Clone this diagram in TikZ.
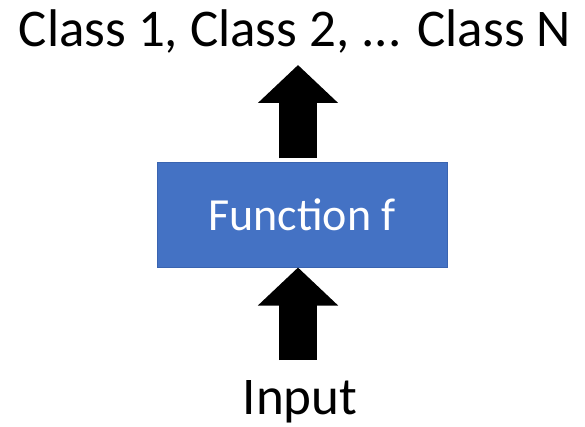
\documentclass[tikz,border=0pt]{standalone}
\usepackage{fontspec}
\setmainfont{Carlito}
\usetikzlibrary{arrows.meta}
\definecolor{officeblue}{HTML}{4472C4}
\definecolor{officeline}{HTML}{3A64B0}
\tikzset{
  funcbox/.style={draw=officeline, line width=1pt, fill=officeblue, text=white,
    minimum width=290pt, minimum height=104pt, font=\fontsize{46}{52}\selectfont},
  biglabel/.style={anchor=base, inner sep=0pt, font=\fontsize{53}{60}\selectfont},
  blockarrow/.style={line width=38pt, -{Triangle[length=38pt, width=78pt]}},
}
\begin{document}
\begin{tikzpicture}[x=1pt, y=1pt]
	\useasboundingbox (0,0) rectangle (585,-427);
	\node[funcbox]   (func)    at (302,-215) {Function f};
	\node[biglabel]  (classes) at (295,-47)  {Class 1, Class 2, ... Class N};
	\node[biglabel]  (inp)     at (300,-414) {Input};
	\coordinate (uptip)  at (298,-65);
	\coordinate (lowend) at (298,-360);
	\draw[blockarrow] (func.north -| uptip) ++(0,4) -- (uptip);
	\draw[blockarrow] (lowend) -- (func.south -| lowend);
\end{tikzpicture}
\end{document}
